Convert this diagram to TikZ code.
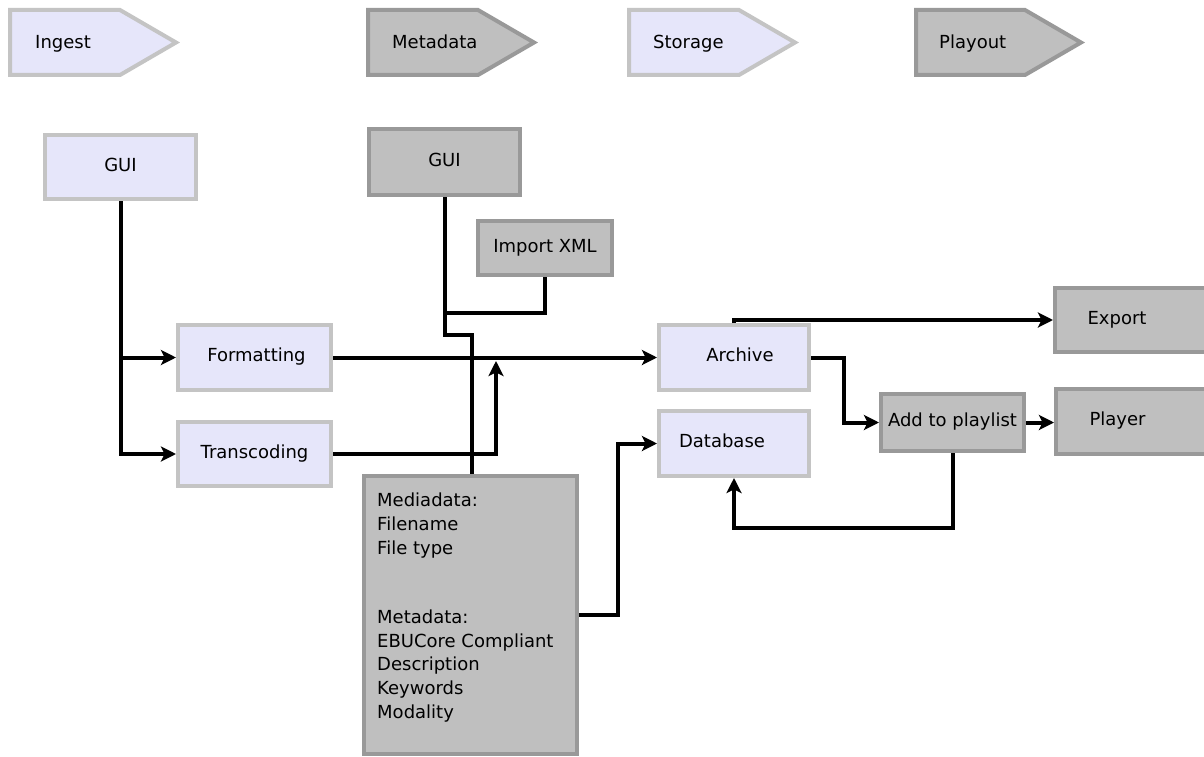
\documentclass[tikz,border=0pt]{standalone}
\usepackage{fontspec}
\setmainfont{DejaVu Sans}
\usetikzlibrary{arrows.meta}
\definecolor{lfill}{HTML}{E6E6FA}
\definecolor{lline}{HTML}{C4C4C4}
\definecolor{gfill}{HTML}{BFBFBF}
\definecolor{gline}{HTML}{999999}
\tikzset{
  lbox/.style={draw=lline, fill=lfill, line width=4pt, inner sep=0pt,
    text height=13pt, text depth=5pt, font=\fontsize{18}{22}\selectfont},
  gbox/.style={lbox, draw=gline, fill=gfill},
  hl/.style={draw=lline, fill=lfill, line width=4pt, line join=miter},
  hg/.style={draw=gline, fill=gfill, line width=4pt, line join=miter},
  htext/.style={inner sep=0pt, font=\fontsize{18}{22}\selectfont},
  conn/.style={line width=4pt, black},
  arr/.style={conn, -{Stealth[length=15pt,width=15pt,inset=3.5pt]}},
}
\begin{document}
\begin{tikzpicture}[x=1pt,y=-1pt]
\useasboundingbox (0,0) rectangle (1204,757);
\clip (0,0) rectangle (1204,757);
\fill[white] (0,0) rectangle (1204,757);

% header arrows
\draw[hl] (10,10) -- (120,10) -- (176,42.5) -- (120,75) -- (10,75) -- cycle;
\draw[hg] (368,10) -- (478,10) -- (534,42.5) -- (478,75) -- (368,75) -- cycle;
\draw[hl] (629,10) -- (739,10) -- (795,42.5) -- (739,75) -- (629,75) -- cycle;
\draw[hg] (916,10) -- (1025,10) -- (1081,42.5) -- (1025,75) -- (916,75) -- cycle;
\node[htext, anchor=base west] (hIngest) at (35,48.6) {Ingest};
\node[htext, anchor=base west] (hMeta) at (392,48.6) {Metadata};
\node[htext, anchor=base west] (hStore) at (653,48.6) {Storage};
\node[htext, anchor=base west] (hPlay) at (939,48.6) {Playout};

% boxes
\node[lbox, minimum width=151pt, minimum height=64pt] (gui1) at (120.5,167) {GUI};
\node[gbox, minimum width=151pt, minimum height=66pt] (gui2) at (444.5,162) {GUI};
\node[gbox, minimum width=134pt, minimum height=54pt] (importxml) at (545,248) {Import XML};
\node[lbox, minimum width=153pt, minimum height=65pt] (formatting) at (254.5,357.5) {\hspace*{4pt}Formatting};
\node[lbox, minimum width=153pt, minimum height=64pt] (transcoding) at (254.5,454) {Transcoding};
\node[lbox, minimum width=150pt, minimum height=65pt] (archive) at (734,357.5) {\hspace*{12pt}Archive};
\node[lbox, minimum width=150pt, minimum height=65pt] (database) at (734,443.5) {Database\hspace*{24pt}};
\node[gbox, minimum width=158pt, minimum height=64pt] (export) at (1134,320) {Export\hspace*{34pt}};
\node[gbox, minimum width=157pt, minimum height=65pt] (player) at (1134.5,421.5) {Player\hspace*{34pt}};
\node[gbox, minimum width=143pt, minimum height=57pt] (addtoplaylist) at (952.5,422.5) {Add to playlist};
\node[gbox, minimum width=213pt, minimum height=278pt] (mediadata) at (470.5,615) {};
\node[htext, anchor=north west, align=left, font=\fontsize{18}{23.7}\selectfont] (mdtext) at (377,493)
  {Mediadata:\\Filename\\File type\\[45.5pt]Metadata:\\EBUCore Compliant\\Description\\Keywords\\Modality};

% connectors
\coordinate (j0) at (444.5,313);
\coordinate (j1) at (472,335);
\coordinate (tcUp) at (496,361);
\draw[arr] (gui1.south) |- (transcoding.west);
\draw[arr] (gui1.south |- formatting.west) -- (formatting.west);
\draw[arr] (formatting.east) -- (archive.west);
\draw[arr] (transcoding.east) -| (tcUp);
\draw[conn] (importxml.south) |- (j0);
\draw[conn] (gui2.south) |- (j1) -- (j1 |- mediadata.north);
\draw[arr] (mediadata.east) -- ++(39,0) |- (database.west);
\draw[arr] (archive.north) |- (export.west);
\draw[arr] (archive.east) -- ++(33,0) |- (addtoplaylist.west);
\draw[arr] (addtoplaylist.east) -- (addtoplaylist.east -| player.west);
\draw[arr] (addtoplaylist.south) -- ++(0,75) -| (database.south);
\end{tikzpicture}
\end{document}
